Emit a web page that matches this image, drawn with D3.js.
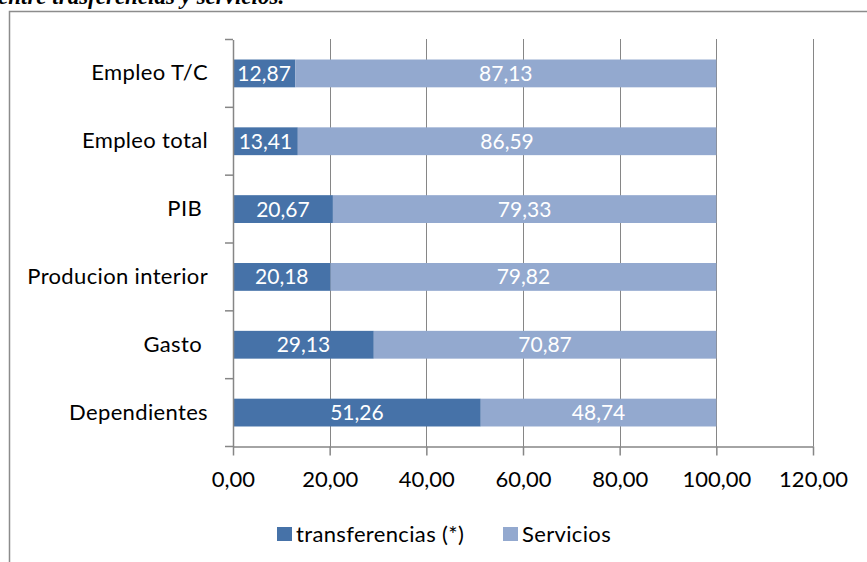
<!DOCTYPE html>
<html><head><meta charset="utf-8">
<script src="https://cdn.jsdelivr.net/npm/d3@7"></script>
<style>body{margin:0;background:#fff}svg{display:block}text{white-space:pre}</style>
</head><body>
<script>
const categories = ["Empleo T/C","Empleo total","PIB ","Producion interior","Gasto ","Dependientes"];
const transferencias = [12.87,13.41,20.67,20.18,29.13,51.26];
const servicios = [87.13,86.59,79.33,79.82,70.87,48.74];
const seriesNames = ["transferencias (*)","Servicios"];
const xTicks = [0,20,40,60,80,100,120];
const colors = ["#4672A8","#93A9CF"];
const fmt = v => v.toFixed(2).replace(".", ",");

const W=867,H=562;
const svg=d3.select("body").append("svg").attr("width",W).attr("height",H);
const font="Lato, 'Open Sans', sans-serif";

// title (cropped)
svg.append("text").attr("x",-2).attr("y",4)
  .attr("font-family","'Liberation Serif', 'Times New Roman', serif")
  .attr("font-weight","bold").attr("font-style","italic").attr("font-size",23)
  .text("entre trasferencias y servicios.");

// outer border
svg.append("path").attr("d",`M9.5,${H} V11.5 H${W}`).attr("fill","none")
  .attr("stroke","#8c8c8c").attr("stroke-width",1.5);

const x=d3.scaleLinear().domain([0,120]).range([233,813]);
const y=d3.scaleBand().domain(categories).range([39.5,446.5]).paddingInner(0.59).paddingOuter(0.295);
const yb=d3.scaleBand().domain(categories).range([39.5,446.5]);

// gridlines
svg.append("g").selectAll("line").data(xTicks.slice(1)).join("line")
  .attr("x1",d=>Math.round(x(d))+0.5).attr("x2",d=>Math.round(x(d))+0.5)
  .attr("y1",39).attr("y2",446.5).attr("stroke","#868686").attr("stroke-width",1);

// bars
const stacked = categories.map((c,i)=>({c, segs:[
  {s:0,x0:0,x1:transferencias[i],v:transferencias[i]},
  {s:1,x0:transferencias[i],x1:transferencias[i]+servicios[i],v:servicios[i]}]}));
const g=svg.append("g");
stacked.forEach(d=>{
  d.segs.forEach(s=>{
    g.append("rect").attr("x",x(s.x0)).attr("width",x(s.x1)-x(s.x0))
      .attr("y",y(d.c)).attr("height",y.bandwidth())
      .attr("fill",colors[s.s]);
    g.append("text").attr("x",(x(s.x0)+x(s.x1))/2).attr("y",y(d.c)+y.bandwidth()/2)
      .attr("dy","0.36em").attr("text-anchor","middle").attr("fill","#fff")
      .attr("font-family",font).attr("font-size",21).text(fmt(s.v));
  });
});

// x axis
const xa=svg.append("g").attr("transform","translate(0,446.5)")
  .call(d3.axisBottom(x).tickValues(xTicks).tickFormat(fmt).tickSize(9).tickSizeOuter(0).tickPadding(16));
xa.select(".domain").attr("stroke","#868686").attr("stroke-width",1.5);
xa.selectAll(".tick line").attr("stroke","#868686").attr("stroke-width",1.5);
xa.selectAll("text").attr("font-family",font).attr("font-size",22).attr("fill","#000");

// y axis
const ya=svg.append("g").attr("transform","translate(233,0)")
  .call(d3.axisLeft(yb).tickSize(0).tickPadding(25));
ya.select(".domain").attr("stroke","#868686").attr("stroke-width",1.5);
ya.selectAll("text").attr("font-family",font).attr("font-size",22).attr("letter-spacing","0.35px").attr("fill","#000");
// boundary ticks
const bounds=categories.map(c=>yb(c)).concat([446.5]);
svg.append("g").selectAll("line").data(bounds).join("line")
  .attr("x1",225).attr("x2",233).attr("y1",d=>d).attr("y2",d=>d)
  .attr("stroke","#868686").attr("stroke-width",1.5);

// legend
const leg=svg.append("g");
const lx=[277,503];
seriesNames.forEach((n,i)=>{
  leg.append("rect").attr("x",lx[i]).attr("y",527).attr("width",15).attr("height",14).attr("fill",colors[i]);
  leg.append("text").attr("x",lx[i]+19).attr("y",534).attr("dy","0.36em")
    .attr("font-family",font).attr("font-size",22).attr("letter-spacing","0.35px").attr("fill","#000").text(n);
});
</script>
</body></html>
